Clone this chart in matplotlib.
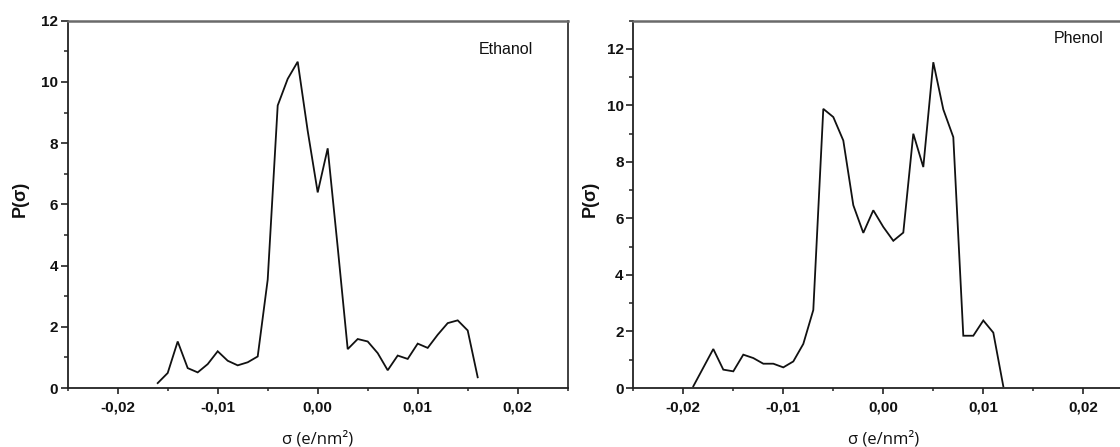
import matplotlib
matplotlib.use("Agg")
import matplotlib.pyplot as plt
from matplotlib.ticker import MultipleLocator, FuncFormatter
from matplotlib.transforms import IdentityTransform

# ---- data ----
sigma_ethanol = [-0.016, -0.015, -0.014, -0.013, -0.012, -0.011, -0.010, -0.009,
                 -0.008, -0.007, -0.006, -0.005, -0.004, -0.003, -0.002, -0.001,
                 0.000, 0.001, 0.002, 0.003, 0.004, 0.005, 0.006, 0.007, 0.008,
                 0.009, 0.010, 0.011, 0.012, 0.013, 0.014, 0.015, 0.016]
p_ethanol = [0.16, 0.49, 1.52, 0.65, 0.51, 0.78, 1.20, 0.89, 0.74, 0.84, 1.03,
             3.54, 9.23, 10.10, 10.66, 8.40, 6.39, 7.83, 4.60, 1.27, 1.60, 1.52,
             1.14, 0.58, 1.06, 0.95, 1.45, 1.31, 1.74, 2.12, 2.21, 1.88, 0.35]

sigma_phenol = [-0.019, -0.018, -0.017, -0.016, -0.015, -0.014, -0.013, -0.012,
                -0.011, -0.010, -0.009, -0.008, -0.007, -0.006, -0.005, -0.004,
                -0.003, -0.002, -0.001, 0.000, 0.001, 0.002, 0.003, 0.004, 0.005,
                0.006, 0.007, 0.008, 0.009, 0.010, 0.011, 0.012]
p_phenol = [0.06, 0.72, 1.38, 0.65, 0.59, 1.18, 1.06, 0.86, 0.86, 0.73, 0.94,
            1.56, 2.76, 9.88, 9.59, 8.76, 6.47, 5.49, 6.29, 5.70, 5.21, 5.50,
            9.00, 7.82, 11.53, 9.86, 8.88, 1.85, 1.85, 2.39, 1.96, 0.06]

W, H = 1120, 447
AX_BOTTOM = (H - 388) / H
AX_HEIGHT = (388 - 20.7) / H
AX_WIDTH = 500 / W

panels = [
    dict(x=sigma_ethanol, y=p_ethanol, label="Ethanol", ylim=(0, 12),
         text_xy=(0.0188, 11.05), left=67.7, center=317.7, ylabel_x=20.5),
    dict(x=sigma_phenol, y=p_phenol, label="Phenol", ylim=(0, 13),
         text_xy=(0.0195, 12.36), left=633.3, center=883.3, ylabel_x=590),
]

fig = plt.figure(figsize=(W / 100, H / 100), dpi=100)


def fmt(v, pos):
    if abs(v) < 1e-12:
        v = 0.0
    return f"{v:.2f}".replace(".", ",")


for p in panels:
    ax = fig.add_axes([p["left"] / W, AX_BOTTOM, AX_WIDTH, AX_HEIGHT])
    ax.plot(p["x"], p["y"], color="#111111", lw=1.3, solid_joinstyle="miter")
    ax.set_xlim(-0.025, 0.025)
    ax.set_ylim(*p["ylim"])
    ax.xaxis.set_major_locator(MultipleLocator(0.01))
    ax.xaxis.set_minor_locator(MultipleLocator(0.005))
    ax.yaxis.set_major_locator(MultipleLocator(2))
    ax.yaxis.set_minor_locator(MultipleLocator(1))
    ax.xaxis.set_major_formatter(FuncFormatter(fmt))
    ax.tick_params(axis="x", which="major", direction="out", length=4.0,
                   width=1.2, color="#222222", pad=5)
    ax.tick_params(axis="x", which="minor", direction="out", length=2.5,
                   width=1.1, color="#222222")
    ax.tick_params(axis="y", which="major", direction="out", length=5.0,
                   width=1.2, color="#222222", pad=2)
    ax.tick_params(axis="y", which="minor", direction="out", length=3.0,
                   width=1.1, color="#222222")
    for lab in ax.get_xticklabels() + ax.get_yticklabels():
        lab.set_fontfamily("Liberation Sans")
        lab.set_fontweight("bold")
        lab.set_fontsize(11)
        lab.set_color("#111111")
    for side in ["left", "bottom", "right"]:
        ax.spines[side].set_color("#222222")
        ax.spines[side].set_linewidth(1.3)
    ax.spines["top"].set_color("#6a6a6a")
    ax.spines["top"].set_linewidth(1.8)
    ax.spines["right"].set_color("#333333")

    ax.text(p["text_xy"][0], p["text_xy"][1], p["label"], ha="center",
            va="center", fontsize=11.5, family="Liberation Sans",
            color="#111111")

    ax.set_xlabel("σ (e/nm²)", family="Open Sans", fontsize=12,
                  color="#111111", va="center")
    ax.xaxis.set_label_coords(p["center"], H - 439,
                              transform=IdentityTransform())
    ax.set_ylabel("P(σ)", family="Liberation Sans", weight="bold",
                  fontsize=13, color="#111111", va="center", ha="center")
    ax.yaxis.set_label_coords(p["ylabel_x"], H - 199,
                              transform=IdentityTransform())

fig.savefig("out.png", dpi=100, facecolor="white")
